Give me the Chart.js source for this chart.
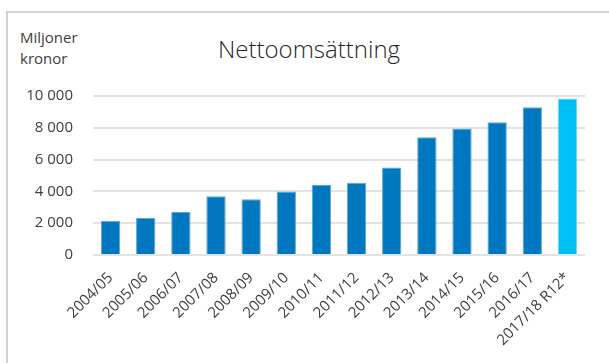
<!DOCTYPE html>
<html>
<head>
<meta charset="utf-8">
<script src="https://cdn.jsdelivr.net/npm/chart.js@4/dist/chart.umd.min.js"></script>
<style>
body{margin:0;background:#fff;font-family:"Open Sans",sans-serif;}
.wrap{position:relative;width:609px;height:363px;overflow:hidden;}
.frame{position:absolute;left:6px;top:11px;width:700px;height:400px;border-left:2px solid #cfd3d6;border-top:2px solid #cfd3d6;}
.unit{position:absolute;left:20px;top:27px;font-size:15px;line-height:21px;color:#404040;}
.title{position:absolute;left:0;width:618px;top:32px;text-align:center;font-size:24px;font-weight:300;color:#262626;}
canvas{position:absolute;left:0;top:0;}
</style>
</head>
<body>
<div class="wrap">
  <div class="frame"></div>
  <div class="unit">Miljoner<br>kronor</div>
  <div class="title">Nettoomsättning</div>
  <canvas id="myChart" width="609" height="363"></canvas>
</div>
<script>
const labels = ['2004/05','2005/06','2006/07','2007/08','2008/09','2009/10','2010/11','2011/12','2012/13','2013/14','2014/15','2015/16','2016/17','2017/18 R12*'];
const values = [2150, 2350, 2700, 3700, 3500, 4000, 4400, 4550, 5500, 7400, 7950, 8350, 9300, 9850];
const yTicks = [0, 2000, 4000, 6000, 8000, 10000];

// last bar is rolling 12 months, lighter colour
const barColors = values.map((v, i) => i == values.length - 1 ? '#00bff2' : '#0077bf');
const edgeColors = values.map((v, i) => i == values.length - 1 ? '#6fd6f5' : '#5ea6d8');

let ctx = document.getElementById('myChart');
let myChart = new Chart(ctx, {
    type: 'bar',
    data: {
        labels: labels,
        datasets: [{
            data: values,
            backgroundColor: barColors,
            borderColor: edgeColors,
            borderWidth: 1,
            barPercentage: 0.55,
            categoryPercentage: 1
        }]
    },
    options: {
        responsive: false,
        animation: false,
        layout: {padding: {left: 20, right: 24, top: 96, bottom: 0}},
        plugins: {legend: {display: false}, tooltip: {enabled: false}},
        scales: {
            x: {
                grid: {display: false},
                border: {display: false},
                ticks: {
                    color: '#404040',
                    font: {family: 'Open Sans', size: 15},
                    minRotation: 45,
                    maxRotation: 45,
                    autoSkip: false,
                    padding: 6
                },
                afterFit: (scale) => { scale.height = 108; }
            },
            y: {
                min: 0,
                max: 10000,
                afterBuildTicks: (scale) => { scale.ticks = yTicks.map(v => ({value: v})); },
                grid: {color: '#e3e3e3', lineWidth: 2, drawTicks: false},
                border: {display: false},
                ticks: {
                    color: '#404040',
                    font: {family: 'Open Sans', size: 15},
                    padding: 20,
                    callback: (v) => v.toLocaleString('sv-SE').replace(/\s/g, ' ')
                },
                afterFit: (scale) => { scale.width = 73; }
            }
        }
    }
});
</script>
</body>
</html>
